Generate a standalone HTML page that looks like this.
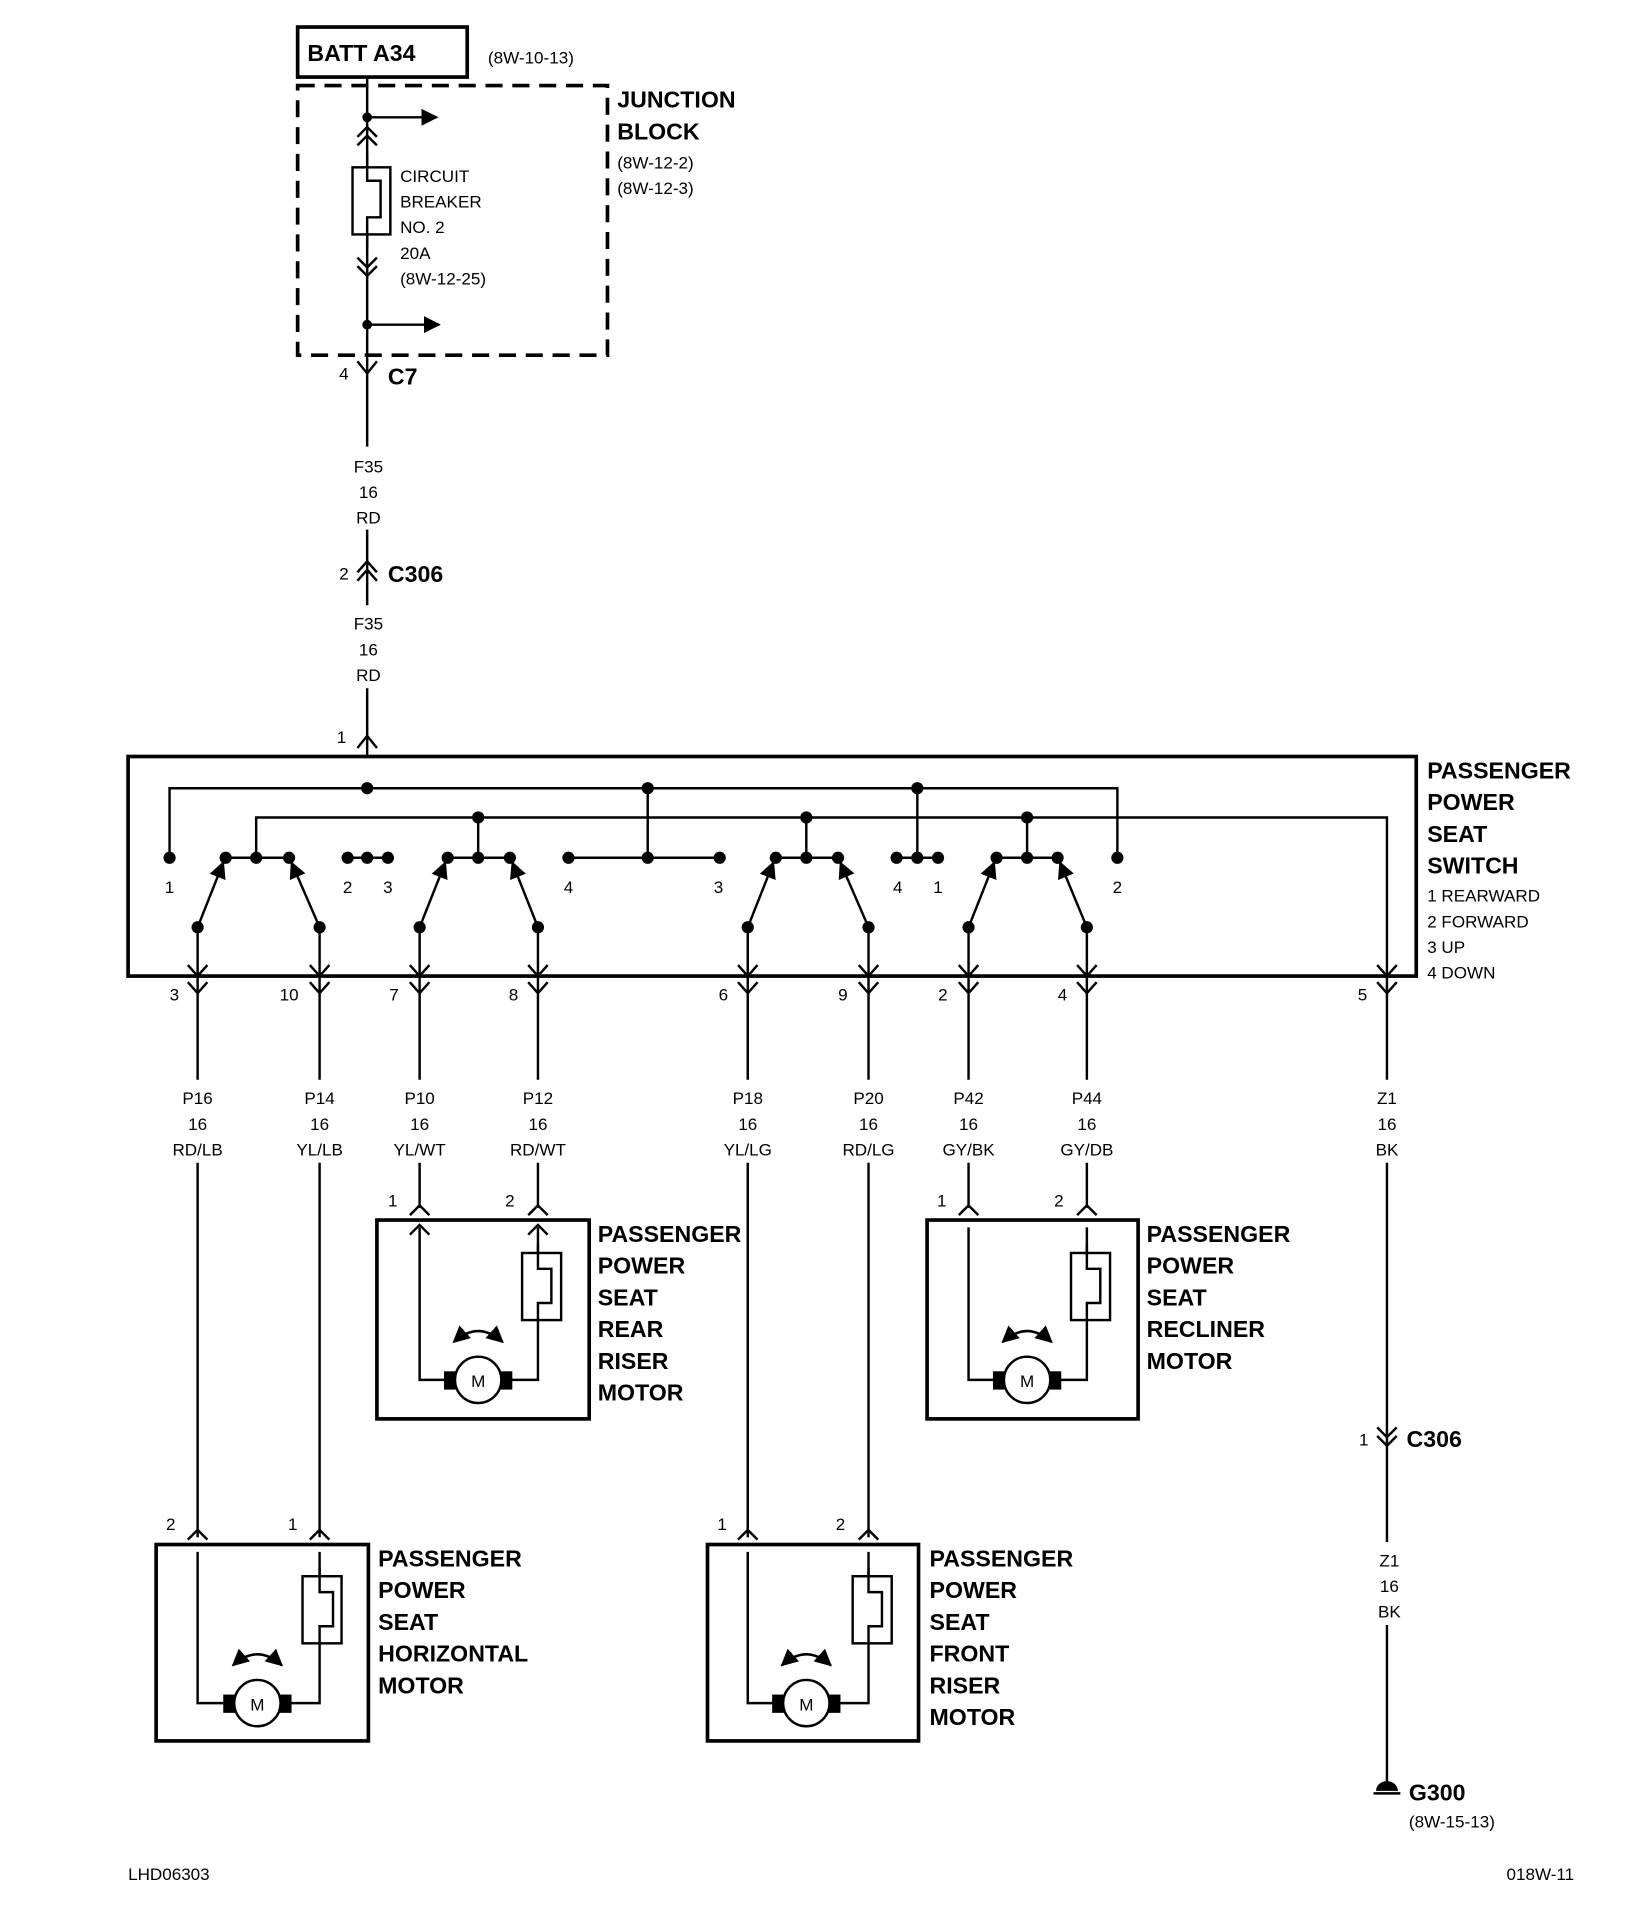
<!DOCTYPE html>
<html><head><meta charset="utf-8"><style>
html,body{margin:0;padding:0;background:#fff}
svg{display:block}
text{font-family:"Liberation Sans Narrow","Liberation Sans",sans-serif;fill:#000}
.b{font-weight:bold;font-size:19px}
.s{font-size:14px}
</style></head><body>
<svg width="1648" height="1918" viewBox="0 0 1351 1572" xmlns="http://www.w3.org/2000/svg">
<defs>
<marker id="ah" viewBox="0 0 10 10" refX="9" refY="5" markerWidth="7" markerHeight="7" orient="auto-start-reverse"><path d="M0 0L10 5L0 10z"/></marker>
</defs>
<g stroke="#000" stroke-width="2" fill="none">
<rect x="244" y="22" width="139" height="41" stroke-width="3"/>
<rect x="244" y="70" width="254" height="221" stroke-width="3" stroke-dasharray="14,8"/>
<line x1="301" y1="63" x2="301" y2="366"/>
<line x1="301" y1="434" x2="301" y2="496"/>
<line x1="301" y1="564" x2="301" y2="620"/>
<line x1="301" y1="96" x2="358" y2="96" marker-end="url(#ah)"/>
<line x1="301" y1="266" x2="360" y2="266" marker-end="url(#ah)"/>
<path d="M293 112L301 104L309 112M293 119L301 111L309 119"/>
<path d="M293 211L301 219L309 211M293 218L301 226L309 218"/>
<rect x="289" y="137" width="31" height="55" fill="#fff"/>
<path d="M301 126V148H312V178H301V204"/>
<path d="M293 296L301 306L309 296"/>
<path d="M293 469L301 460L309 469M293 476L301 467L309 476"/>
<path d="M293 613L301 603L309 613"/>
<rect x="105" y="620" width="1056" height="180" stroke-width="3"/>
<path d="M139 703V646H916V703"/>
<path d="M210 703V670H1137V800"/>
<path d="M285 703H318"/>
<path d="M531 646V703M466 703H590"/>
<path d="M752 646V703M735 703H769"/>
<path d="M392 670V703M661 670V703M842 670V703"/>
<path d="M185 703H237M367 703H418M636 703H687M817 703H867"/>
<g marker-end="url(#ah)">
<line x1="162" y1="760" x2="183" y2="707"/><line x1="262" y1="760" x2="239" y2="707"/>
<line x1="344" y1="760" x2="365" y2="707"/><line x1="441" y1="760" x2="420" y2="707"/>
<line x1="613" y1="760" x2="634" y2="707"/><line x1="712" y1="760" x2="689" y2="707"/>
<line x1="794" y1="760" x2="815" y2="707"/><line x1="891" y1="760" x2="869" y2="707"/>
</g>
<g>
<path d="M162 760V885M162 953V1260M154 791L162 800L170 791M154 805L162 814L170 805"/>
<path d="M262 760V885M262 953V1260M254 791L262 800L270 791M254 805L262 814L270 805"/>
<path d="M344 760V885M344 953V990M336 791L344 800L352 791M336 805L344 814L352 805"/>
<path d="M441 760V885M441 953V990M433 791L441 800L449 791M433 805L441 814L449 805"/>
<path d="M613 760V885M613 953V1260M605 791L613 800L621 791M605 805L613 814L621 805"/>
<path d="M712 760V885M712 953V1260M704 791L712 800L720 791M704 805L712 814L720 805"/>
<path d="M794 760V885M794 953V990M786 791L794 800L802 791M786 805L794 814L802 805"/>
<path d="M891 760V885M891 953V990M883 791L891 800L899 791M883 805L891 814L899 805"/>
<path d="M1129 791L1137 800L1145 791M1129 805L1137 814L1145 805"/>
</g>
<path d="M1137 800V885M1137 953V1264M1137 1332V1460"/>
<path d="M1129 1170L1137 1178L1145 1170M1129 1177L1137 1185L1145 1177"/>
<rect x="309" y="1000" width="174" height="163" stroke-width="3"/>
<rect x="760" y="1000" width="173" height="163" stroke-width="3"/>
<rect x="128" y="1266" width="174" height="161" stroke-width="3"/>
<rect x="580" y="1266" width="173" height="161" stroke-width="3"/>
</g>
<g fill="#000">
<circle cx="301" cy="96" r="4"/><circle cx="301" cy="266" r="4"/>
<circle cx="301" cy="646" r="5"/><circle cx="531" cy="646" r="5"/><circle cx="752" cy="646" r="5"/>
<circle cx="392" cy="670" r="5"/><circle cx="661" cy="670" r="5"/><circle cx="842" cy="670" r="5"/>
<circle cx="139" cy="703" r="5"/><circle cx="916" cy="703" r="5"/>
<circle cx="285" cy="703" r="5"/><circle cx="301" cy="703" r="5"/><circle cx="318" cy="703" r="5"/>
<circle cx="466" cy="703" r="5"/><circle cx="531" cy="703" r="5"/><circle cx="590" cy="703" r="5"/>
<circle cx="735" cy="703" r="5"/><circle cx="752" cy="703" r="5"/><circle cx="769" cy="703" r="5"/>
<circle cx="185" cy="703" r="5"/><circle cx="210" cy="703" r="5"/><circle cx="237" cy="703" r="5"/>
<circle cx="367" cy="703" r="5"/><circle cx="392" cy="703" r="5"/><circle cx="418" cy="703" r="5"/>
<circle cx="636" cy="703" r="5"/><circle cx="661" cy="703" r="5"/><circle cx="687" cy="703" r="5"/>
<circle cx="817" cy="703" r="5"/><circle cx="842" cy="703" r="5"/><circle cx="867" cy="703" r="5"/>
<circle cx="162" cy="760" r="5"/><circle cx="262" cy="760" r="5"/><circle cx="344" cy="760" r="5"/><circle cx="441" cy="760" r="5"/>
<circle cx="613" cy="760" r="5"/><circle cx="712" cy="760" r="5"/><circle cx="794" cy="760" r="5"/><circle cx="891" cy="760" r="5"/>
</g>
<g stroke="#000" stroke-width="2" fill="none">
<path d="M336 996L344 988L352 996M433 996L441 988L449 996"/>
<path d="M344 1006V1131H372M441 1006V1131H412"/>
<path d="M336 1012L344 1004L352 1012M433 1012L441 1004L449 1012"/>
<rect x="428" y="1027" width="32" height="55" fill="#fff"/>
<path d="M441 1020V1040H452V1068H441V1082"/>
<rect x="365" y="1125" width="8" height="13" fill="#000"/><rect x="411" y="1125" width="8" height="13" fill="#000"/>
<circle cx="392" cy="1131" r="19" fill="#fff"/>
<path d="M372 1100Q392 1082 412 1100" marker-start="url(#ah)" marker-end="url(#ah)"/>
<path d="M786 996L794 988L802 996M883 996L891 988L899 996"/>
<path d="M794 1006V1131H822M891 1006V1131H862"/>
<rect x="878" y="1027" width="32" height="55" fill="#fff"/>
<path d="M891 1020V1040H902V1068H891V1082"/>
<rect x="815" y="1125" width="8" height="13" fill="#000"/><rect x="861" y="1125" width="8" height="13" fill="#000"/>
<circle cx="842" cy="1131" r="19" fill="#fff"/>
<path d="M822 1100Q842 1082 862 1100" marker-start="url(#ah)" marker-end="url(#ah)"/>
<path d="M154 1262L162 1254L170 1262M254 1262L262 1254L270 1262"/>
<path d="M162 1272V1396H190M262 1272V1396H232"/>
<rect x="248" y="1292" width="32" height="55" fill="#fff"/>
<path d="M262 1285V1305H273V1333H262V1347"/>
<rect x="184" y="1390" width="8" height="13" fill="#000"/><rect x="230" y="1390" width="8" height="13" fill="#000"/>
<circle cx="211" cy="1396" r="19" fill="#fff"/>
<path d="M191 1365Q211 1347 231 1365" marker-start="url(#ah)" marker-end="url(#ah)"/>
<path d="M605 1262L613 1254L621 1262M704 1262L712 1254L720 1262"/>
<path d="M613 1272V1396H641M712 1272V1396H682"/>
<rect x="699" y="1292" width="32" height="55" fill="#fff"/>
<path d="M712 1285V1305H723V1333H712V1347"/>
<rect x="634" y="1390" width="8" height="13" fill="#000"/><rect x="680" y="1390" width="8" height="13" fill="#000"/>
<circle cx="661" cy="1396" r="19" fill="#fff"/>
<path d="M641 1365Q661 1347 681 1365" marker-start="url(#ah)" marker-end="url(#ah)"/>
<path d="M1126 1470H1148"/>
</g>
<path d="M1128 1468A9 8 0 0 1 1146 1468Z" fill="#000"/>
<text x="392" y="1137" font-size="14" text-anchor="middle">M</text>
<text x="842" y="1137" font-size="14" text-anchor="middle">M</text>
<text x="211" y="1402" font-size="14" text-anchor="middle">M</text>
<text x="661" y="1402" font-size="14" text-anchor="middle">M</text>
<text class="b" x="252" y="50">BATT A34</text>
<text class="s" x="400" y="52">(8W-10-13)</text>
<text class="b" x="506" y="88">JUNCTION</text>
<text class="b" x="506" y="114">BLOCK</text>
<text class="s" x="506" y="138">(8W-12-2)</text>
<text class="s" x="506" y="159">(8W-12-3)</text>
<text class="s" x="328" y="149">CIRCUIT</text>
<text class="s" x="328" y="170">BREAKER</text>
<text class="s" x="328" y="191">NO. 2</text>
<text class="s" x="328" y="212">20A</text>
<text class="s" x="328" y="233">(8W-12-25)</text>
<text class="s" x="278" y="311">4</text>
<text class="b" x="318" y="315">C7</text>
<g class="s" text-anchor="middle">
<text x="302" y="387">F35</text><text x="302" y="408">16</text><text x="302" y="429">RD</text>
<text x="302" y="516">F35</text><text x="302" y="537">16</text><text x="302" y="558">RD</text>
<text x="162" y="905">P16</text><text x="162" y="926">16</text><text x="162" y="947">RD/LB</text>
<text x="262" y="905">P14</text><text x="262" y="926">16</text><text x="262" y="947">YL/LB</text>
<text x="344" y="905">P10</text><text x="344" y="926">16</text><text x="344" y="947">YL/WT</text>
<text x="441" y="905">P12</text><text x="441" y="926">16</text><text x="441" y="947">RD/WT</text>
<text x="613" y="905">P18</text><text x="613" y="926">16</text><text x="613" y="947">YL/LG</text>
<text x="712" y="905">P20</text><text x="712" y="926">16</text><text x="712" y="947">RD/LG</text>
<text x="794" y="905">P42</text><text x="794" y="926">16</text><text x="794" y="947">GY/BK</text>
<text x="891" y="905">P44</text><text x="891" y="926">16</text><text x="891" y="947">GY/DB</text>
<text x="1137" y="905">Z1</text><text x="1137" y="926">16</text><text x="1137" y="947">BK</text>
<text x="1139" y="1284">Z1</text><text x="1139" y="1305">16</text><text x="1139" y="1326">BK</text>
<text x="282" y="475">2</text>
<text x="280" y="609">1</text>
<text x="139" y="732">1</text><text x="285" y="732">2</text><text x="318" y="732">3</text>
<text x="466" y="732">4</text><text x="589" y="732">3</text><text x="736" y="732">4</text><text x="769" y="732">1</text><text x="916" y="732">2</text>
<text x="143" y="820">3</text><text x="237" y="820">10</text><text x="323" y="820">7</text><text x="421" y="820">8</text>
<text x="593" y="820">6</text><text x="691" y="820">9</text><text x="773" y="820">2</text><text x="871" y="820">4</text><text x="1117" y="820">5</text>
<text x="322" y="989">1</text><text x="418" y="989">2</text><text x="772" y="989">1</text><text x="868" y="989">2</text>
<text x="140" y="1254">2</text><text x="240" y="1254">1</text><text x="592" y="1254">1</text><text x="689" y="1254">2</text>
<text x="1118" y="1185">1</text>
</g>
<text class="b" x="318" y="477">C306</text>
<text class="b" x="1170" y="638">PASSENGER</text>
<text class="b" x="1170" y="664">POWER</text>
<text class="b" x="1170" y="690">SEAT</text>
<text class="b" x="1170" y="716">SWITCH</text>
<text class="s" x="1170" y="739">1 REARWARD</text>
<text class="s" x="1170" y="760">2 FORWARD</text>
<text class="s" x="1170" y="781">3 UP</text>
<text class="s" x="1170" y="802">4 DOWN</text>
<g class="b">
<text x="490" y="1018">PASSENGER</text><text x="490" y="1044">POWER</text><text x="490" y="1070">SEAT</text><text x="490" y="1096">REAR</text><text x="490" y="1122">RISER</text><text x="490" y="1148">MOTOR</text>
<text x="940" y="1018">PASSENGER</text><text x="940" y="1044">POWER</text><text x="940" y="1070">SEAT</text><text x="940" y="1096">RECLINER</text><text x="940" y="1122">MOTOR</text>
<text x="310" y="1284">PASSENGER</text><text x="310" y="1310">POWER</text><text x="310" y="1336">SEAT</text><text x="310" y="1362">HORIZONTAL</text><text x="310" y="1388">MOTOR</text>
<text x="762" y="1284">PASSENGER</text><text x="762" y="1310">POWER</text><text x="762" y="1336">SEAT</text><text x="762" y="1362">FRONT</text><text x="762" y="1388">RISER</text><text x="762" y="1414">MOTOR</text>
<text x="1153" y="1186">C306</text>
<text x="1155" y="1476">G300</text>
</g>
<text class="s" x="1155" y="1498">(8W-15-13)</text>
<text class="s" x="105" y="1541">LHD06303</text>
<text class="s" x="1235" y="1541">018W-11</text>
</svg>
</body></html>
